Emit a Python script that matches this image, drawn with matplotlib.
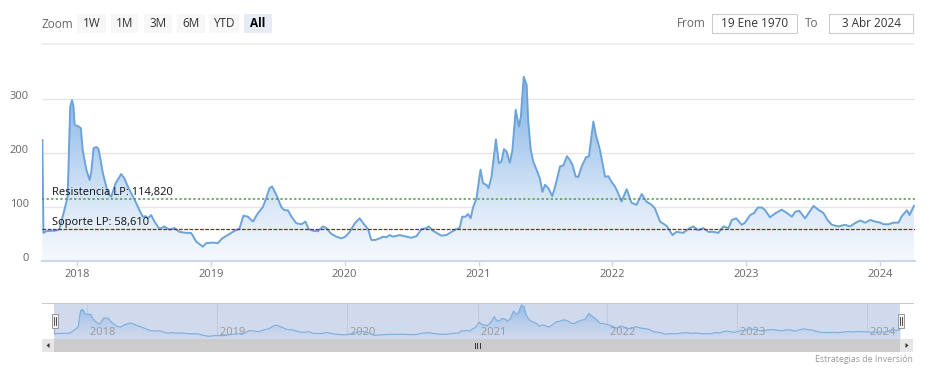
import numpy as np
import pandas as pd
import matplotlib.pyplot as plt
import matplotlib.dates as mdates
import matplotlib.transforms as mtransforms
from matplotlib.colors import LinearSegmentedColormap
from matplotlib.patches import Rectangle, Polygon
from matplotlib.lines import Line2D

plt.rcParams['font.family'] = ['Open Sans', 'DejaVu Sans']

# ---- data ----
fechas = [
    '2017-09-28', '2017-10-01', '2017-10-08', '2017-10-22', '2017-11-02', '2017-11-13', '2017-11-27',
    '2017-12-06', '2017-12-13', '2017-12-18', '2017-12-22', '2017-12-25',
    '2018-01-05', '2018-01-11', '2018-01-16', '2018-01-26', '2018-02-04', '2018-02-08', '2018-02-15',
    '2018-02-22', '2018-02-28', '2018-03-06', '2018-03-12', '2018-03-19', '2018-03-26', '2018-04-04',
    '2018-04-16', '2018-05-01', '2018-05-10', '2018-05-19', '2018-06-07', '2018-06-20', '2018-06-29',
    '2018-07-07', '2018-07-13', '2018-07-22', '2018-07-31', '2018-08-14', '2018-08-27', '2018-09-10',
    '2018-09-24', '2018-10-07', '2018-10-26', '2018-11-08', '2018-11-22', '2018-12-10', '2018-12-19',
    '2019-01-06', '2019-01-20', '2019-02-01', '2019-02-16', '2019-03-02', '2019-03-20', '2019-03-31',
    '2019-04-12', '2019-04-26', '2019-05-09', '2019-05-23', '2019-06-01', '2019-06-10', '2019-06-17',
    '2019-06-26', '2019-07-03', '2019-07-12', '2019-07-21', '2019-07-30', '2019-08-09', '2019-08-22',
    '2019-09-05', '2019-09-16', '2019-09-25', '2019-10-07', '2019-10-20', '2019-11-03', '2019-11-12',
    '2019-11-26', '2019-12-10', '2019-12-23',
    '2020-01-03', '2020-01-15', '2020-01-29', '2020-02-11', '2020-02-23', '2020-03-05', '2020-03-14',
    '2020-03-25', '2020-04-06', '2020-04-15', '2020-04-24', '2020-05-03', '2020-05-12', '2020-05-30',
    '2020-06-18', '2020-07-01', '2020-07-15', '2020-07-29', '2020-08-11', '2020-08-18', '2020-08-29',
    '2020-09-08', '2020-09-21', '2020-10-05', '2020-10-19', '2020-11-01', '2020-11-10', '2020-11-17',
    '2020-11-26', '2020-12-03', '2020-12-10', '2020-12-17', '2020-12-26',
    '2021-01-06', '2021-01-13', '2021-01-22', '2021-01-28', '2021-02-05', '2021-02-17', '2021-02-25',
    '2021-03-04', '2021-03-11', '2021-03-18', '2021-03-27', '2021-04-03', '2021-04-12', '2021-04-21',
    '2021-04-26', '2021-05-04', '2021-05-12', '2021-05-16', '2021-05-23', '2021-05-30', '2021-06-08',
    '2021-06-17', '2021-06-24', '2021-07-01', '2021-07-10', '2021-07-21', '2021-07-31', '2021-08-11',
    '2021-08-20', '2021-08-30', '2021-09-07', '2021-09-14', '2021-09-23', '2021-09-30', '2021-10-09',
    '2021-10-21', '2021-10-29', '2021-11-10', '2021-11-17', '2021-11-28', '2021-12-12', '2021-12-21',
    '2021-12-30',
    '2022-01-08', '2022-01-15', '2022-01-26', '2022-02-09', '2022-02-22', '2022-03-08', '2022-03-22',
    '2022-04-04', '2022-04-18', '2022-04-27', '2022-05-11', '2022-05-29', '2022-06-14', '2022-06-25',
    '2022-07-13', '2022-07-31', '2022-08-10', '2022-08-23', '2022-09-06', '2022-09-20', '2022-10-04',
    '2022-10-17', '2022-10-31', '2022-11-14', '2022-11-23', '2022-12-05', '2022-12-20', '2022-12-29',
    '2023-01-12', '2023-01-23', '2023-02-02', '2023-02-13', '2023-02-22', '2023-03-07', '2023-03-21',
    '2023-04-08', '2023-04-22', '2023-05-06', '2023-05-15', '2023-05-26', '2023-06-11', '2023-06-23',
    '2023-07-04', '2023-07-17', '2023-07-31', '2023-08-11', '2023-08-23', '2023-09-10', '2023-09-28',
    '2023-10-12', '2023-10-25', '2023-11-08', '2023-11-22', '2023-12-06', '2023-12-19',
    '2024-01-02', '2024-01-11', '2024-01-25', '2024-02-07', '2024-02-21', '2024-03-01', '2024-03-15',
    '2024-03-22', '2024-04-03',
]
valores = [
    224, 52, 55, 56, 56, 58, 94, 119, 286, 298, 286, 252,
    249, 246, 206, 169, 150, 163, 209, 211, 208, 187, 163, 144, 125, 119, 144, 161, 153, 138,
    113, 94, 82, 83, 79, 85, 73, 59, 64, 58, 61, 54, 52, 52, 36, 26.5, 33,
    34, 33, 42, 48, 54, 60, 84, 82, 73, 88, 100, 116, 135, 138, 126, 116, 100, 94, 94, 82,
    70, 68, 73, 59, 56, 55, 64, 61, 50, 45, 42,
    45, 54, 70, 79, 68, 59, 39, 39, 42, 45, 44, 48, 45, 48, 45, 43, 46, 59, 61, 64, 56, 52,
    47, 48, 54, 59, 61, 82, 82, 87, 79, 100, 116,
    169, 144, 141, 135, 156, 225, 181, 184, 207, 203, 182, 205, 280, 249, 267, 341, 326, 261,
    206, 184, 169, 153, 128, 141, 135, 120, 144, 175, 177, 194, 187, 178, 156, 156, 175, 192,
    194, 258, 233, 206, 156, 157, 146,
    138, 128, 110, 133, 108, 104, 124, 110, 104, 97.5, 73, 65, 48, 54, 52, 61, 64, 57, 61, 54,
    54, 52, 64, 61, 76, 79, 67, 71,
    85, 89, 99, 99, 94, 81, 88, 95, 89, 82, 91, 93, 79, 91, 102, 95, 89, 76, 67, 64, 67, 64,
    70, 75, 71, 76, 73,
    71, 68, 68, 71, 71, 83, 94, 85, 102,
]
anios = ['2018', '2019', '2020', '2021', '2022', '2023', '2024']
yticks = [0, 100, 200, 300]
resistencia = 114.82
soporte = 58.61
botones = ['1W', '1M', '3M', '6M', 'YTD', 'All']
fecha_desde = '19 Ene 1970'
fecha_hasta = '3 Abr 2024'

W, H = 926, 370
fig = plt.figure(figsize=(W / 100, H / 100), dpi=100)


def P(x, y):
    return (x / W, 1 - y / H)


def box(x0, y0, x1, y1, fc, ec='none', lw=0, z=1):
    r = Rectangle(P(x0, y1), (x1 - x0) / W, (y1 - y0) / H, transform=fig.transFigure,
                  facecolor=fc, edgecolor=ec, linewidth=lw, zorder=z)
    fig.patches.append(r)


def hline(x0, x1, y, color, lw=1, z=2):
    fig.lines.append(Line2D([x0 / W, x1 / W], [1 - y / H, 1 - y / H], color=color, lw=lw,
                            transform=fig.transFigure, zorder=z))


def vline(x, y0, y1, color, lw=1, z=2):
    fig.lines.append(Line2D([x / W, x / W], [1 - y0 / H, 1 - y1 / H], color=color, lw=lw,
                            transform=fig.transFigure, zorder=z))


xs = mdates.date2num(pd.to_datetime(fechas))
ys = np.array(valores, dtype=float)
x_ini = mdates.date2num(pd.Timestamp('2017-09-27'))
x_fin = mdates.date2num(pd.Timestamp('2024-04-06'))
grad = np.linspace(0, 1, 256).reshape(-1, 1)

# ---- range selector / inputs ----
fig.text(*P(42, 24), 'Zoom', fontsize=8.5, color='#666666', ha='left', va='center')
bx = [(77, 106), (111, 138), (144, 172), (177, 205), (209, 239), (244, 272)]
for (a, b), lab in zip(bx, botones):
    sel = lab == 'All'
    box(a, 14, b, 33, '#e6ebf5' if sel else '#f7f7f7')
    fig.text(*P((a + b) / 2, 23.5), lab, fontsize=8.5, ha='center', va='center',
             color='#000000' if sel else '#333333', fontweight='bold' if sel else 'normal')

fig.text(*P(706, 23.5), 'From', fontsize=8.5, color='#666666', ha='right', va='center')
box(712, 14, 797, 33, 'white', '#cccccc', 0.8)
fig.text(*P(754.5, 23.5), fecha_desde, fontsize=8.5, color='#333333', ha='center', va='center')
fig.text(*P(818, 23.5), 'To', fontsize=8.5, color='#666666', ha='right', va='center')
box(829, 14, 913, 33, 'white', '#cccccc', 0.8)
fig.text(*P(871, 23.5), fecha_hasta, fontsize=8.5, color='#333333', ha='center', va='center')
hline(42, 913, 44, '#eeeeee', lw=1.2)

# ---- main chart ----
ax = fig.add_axes([42 / W, 1 - 261 / H, (915 - 42) / W, (261 - 66) / H])
verts = [(xs[0], 0)] + list(zip(xs, ys)) + [(xs[-1], 0)]
poly = Polygon(verts, closed=True, facecolor='none', edgecolor='none')
ax.add_patch(poly)
cmap = LinearSegmentedColormap.from_list('area', ['#f6f9fd', '#d6e6f7', '#a9caee', '#80b2e5'])
im = ax.imshow(grad, extent=[xs[0], xs[-1], 0, 345], origin='lower', aspect='auto',
               cmap=cmap, zorder=1, interpolation='bicubic')
im.set_clip_path(poly)
ax.plot(xs, ys, color='#6ca3da', lw=1.4, zorder=3, solid_joinstyle='round')

ax.axhline(resistencia, color='#4d9a4d', lw=1.1, ls=(0, (1.5, 1.5)), zorder=4)
ax.axhline(soporte, color='#a01c1c', lw=0.9, ls=(0, (3, 1.2)), zorder=4)
ax.annotate('Resistencia LP: 114,820', xy=(0.0115, resistencia), xycoords=('axes fraction', 'data'),
            xytext=(0, 4.8), textcoords='offset points', fontsize=8, color='#111111',
            ha='left', va='center', zorder=5)
ax.annotate('Soporte LP: 58,610', xy=(0.0115, soporte), xycoords=('axes fraction', 'data'),
            xytext=(0, 4.8), textcoords='offset points', fontsize=8, color='#111111',
            ha='left', va='center', zorder=5)

ax.set_xlim(x_ini, x_fin)
ax.set_ylim(0, 361)
ax.set_yticks(yticks)
ax.set_yticklabels([str(v) for v in yticks])
ax.set_xticks(mdates.date2num(pd.to_datetime([a + '-01-01' for a in anios])))
ax.set_xticklabels(anios)
ax.yaxis.grid(True, color='#e6e6e6', lw=1)
ax.set_axisbelow(True)
for s in ['top', 'left', 'right']:
    ax.spines[s].set_visible(False)
ax.spines['bottom'].set_color('#ccd6eb')
ax.spines['bottom'].set_linewidth(1.5)
ax.tick_params(axis='y', length=0, pad=9.5, labelsize=8, labelcolor='#666666')
ax.tick_params(axis='x', length=3.6, width=1, color='#ccd6eb', pad=2.2, labelsize=8,
               labelcolor='#666666')
up = mtransforms.ScaledTranslation(0, 0.04, fig.dpi_scale_trans)
for lab in ax.get_yticklabels():
    lab.set_transform(lab.get_transform() + up)

# ---- navigator ----
box(54, 303, 900, 339, '#d1daed', z=-2)
hline(42, 913, 303, '#cccccc', lw=0.8, z=3)
nav = fig.add_axes([53.5 / W, 1 - 339 / H, (900.5 - 53.5) / W, 36 / H])
nav.set_zorder(2)
nav.patch.set_alpha(0)
nverts = [(xs[0], 0)] + list(zip(xs, ys)) + [(xs[-1], 0)]
npoly = Polygon(nverts, closed=True, facecolor='none', edgecolor='none')
nav.add_patch(npoly)
ncmap = LinearSegmentedColormap.from_list('nav', ['#d1daed', '#b9cdea', '#8fb9e6'])
nim = nav.imshow(grad, extent=[xs[0], xs[-1], 0, 345], origin='lower', aspect='auto',
                 cmap=ncmap, zorder=1, interpolation='bicubic')
nim.set_clip_path(npoly)
nav.plot(xs, ys, color='#7aaee0', lw=0.8, zorder=3)
ntrans = mtransforms.blended_transform_factory(nav.transData, nav.transAxes)
for a in anios:
    xa = mdates.date2num(pd.Timestamp(a + '-01-01'))
    nav.axvline(xa, color='#c3cbdb', lw=0.8, zorder=0.5)
    nav.text(xa, 0.02, ' ' + a, transform=ntrans, fontsize=8, color='#999999',
             ha='left', va='bottom', zorder=2)
nav.set_xlim(xs[0], xs[-1])
nav.set_ylim(0, 362)
nav.axis('off')

# handles
for hx in (54.5, 901):
    box(hx - 3, 314, hx + 3, 327.5, '#f2f2f2', '#999999', 0.7, z=5)
    vline(hx - 1, 317, 324.5, '#333333', lw=0.6, z=6)
    vline(hx + 1, 317, 324.5, '#333333', lw=0.6, z=6)

# scrollbar
box(42, 339, 913, 352, '#f2f2f2', z=1)
box(54, 339, 900, 352, '#cccccc', z=2)
box(42, 339, 54, 352, '#e6e6e6', z=2)
box(900, 339, 913, 352, '#e6e6e6', z=2)
for rx in (474.5, 477, 479.5):
    vline(rx, 343, 348, '#333333', lw=0.7, z=3)
fig.patches.append(Polygon([P(46.5, 345.5), P(49.5, 343), P(49.5, 348)], closed=True,
                           transform=fig.transFigure, facecolor='#333333', edgecolor='none', zorder=3))
fig.patches.append(Polygon([P(908.5, 345.5), P(905.5, 343), P(905.5, 348)], closed=True,
                           transform=fig.transFigure, facecolor='#333333', edgecolor='none', zorder=3))

fig.text(*P(913, 359.5), 'Estrategias de Inversión', fontsize=6.3, color='#999999',
         ha='right', va='center')

fig.savefig('out.png', dpi=100)
